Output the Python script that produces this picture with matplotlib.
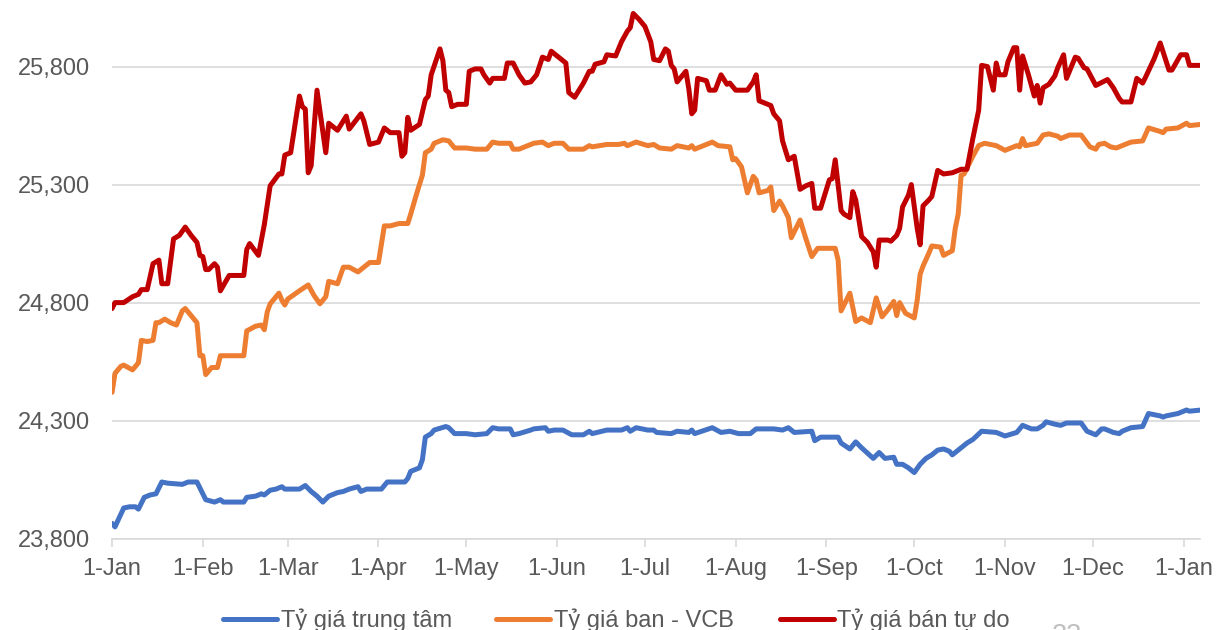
import pandas as pd
import numpy as np
import matplotlib
matplotlib.use('Agg')
import matplotlib.pyplot as plt
import matplotlib.dates as mdates
from matplotlib.ticker import FuncFormatter

START = pd.Timestamp('2024-01-01')

# day offsets from 1-Jan and rates (VND/USD)
red_days = [0, 1, 4, 7, 9, 10, 12, 14, 16, 17, 19, 21, 23, 25, 27, 29, 30, 31, 32, 33,
            35, 36, 37, 40, 45, 46, 47, 50, 52, 54, 57, 58, 59, 61, 64, 65, 66, 67, 68, 70,
            73, 74, 77, 80, 81, 85, 86, 88, 91, 93, 95, 98, 99, 100, 101, 102, 105, 107, 108, 109,
            112, 113, 114, 115, 116, 118, 121, 122, 124, 126, 127, 129, 130, 134, 135, 137, 139, 141, 143, 145,
            147, 149, 150, 153, 155, 156, 158, 161, 163, 164, 165, 168, 169, 172, 174, 176, 177, 178, 180, 182,
            184, 185, 187, 189, 190, 191, 192, 193, 196, 197, 198, 199, 200, 203, 204, 206, 208, 210, 211, 213,
            217, 219, 220, 221, 225, 226, 228, 229, 231, 233, 235, 237, 239, 240, 242, 245, 246, 247, 249, 250,
            252, 253, 254, 256, 258, 260, 261, 262, 265, 266, 268, 269, 270, 272, 273, 275, 276, 277, 279, 280,
            282, 284, 287, 290, 292, 294, 296, 297, 299, 301, 302, 303, 305, 306, 308, 309, 310, 311, 313, 315,
            316, 317, 318, 320, 322, 323, 325, 326, 329, 330, 332, 333, 336, 340, 342, 344, 345, 348, 350, 352,
            353, 356, 358, 361, 362, 365, 367, 368, 372]
red_vals = [24775, 24800, 24800, 24825, 24835, 24855, 24855, 24965, 24980, 24880, 24880, 25070, 25085, 25120, 25085, 25055, 25000, 24995, 24940, 24940,
            24965, 24950, 24850, 24915, 24915, 25025, 25050, 25000, 25130, 25295, 25345, 25345, 25425, 25435, 25675, 25630, 25620, 25350, 25380, 25700,
            25435, 25560, 25530, 25590, 25535, 25600, 25570, 25470, 25480, 25540, 25520, 25520, 25420, 25435, 25585, 25530, 25555, 25660, 25675, 25765,
            25875, 25825, 25700, 25690, 25630, 25640, 25640, 25780, 25790, 25790, 25765, 25730, 25750, 25750, 25815, 25815, 25765, 25730, 25735, 25765,
            25840, 25830, 25865, 25835, 25815, 25690, 25670, 25730, 25780, 25780, 25810, 25820, 25850, 25845, 25905, 25950, 25965, 26025, 26000, 25970,
            25905, 25830, 25825, 25875, 25865, 25805, 25790, 25735, 25780, 25705, 25600, 25615, 25750, 25740, 25700, 25700, 25765, 25725, 25730, 25700,
            25700, 25735, 25765, 25655, 25635, 25600, 25570, 25485, 25405, 25420, 25280, 25295, 25305, 25200, 25200, 25320, 25325, 25405, 25190, 25175,
            25160, 25270, 25235, 25080, 25055, 25015, 24950, 25065, 25065, 25060, 25085, 25115, 25205, 25255, 25300, 25115, 25045, 25210, 25235, 25250,
            25360, 25345, 25350, 25365, 25365, 25495, 25615, 25805, 25800, 25700, 25815, 25765, 25765, 25820, 25880, 25880, 25700, 25845, 25765, 25675,
            25720, 25645, 25710, 25725, 25760, 25795, 25850, 25750, 25840, 25835, 25795, 25790, 25720, 25745, 25710, 25665, 25650, 25650, 25750, 25730,
            25755, 25835, 25900, 25785, 25785, 25850, 25850, 25805, 25805]

orange_days = [0, 1, 3, 4, 7, 9, 10, 12, 14, 15, 16, 18, 20, 22, 24, 25, 27, 29, 30, 31,
               32, 34, 36, 37, 45, 46, 49, 51, 52, 53, 54, 57, 58, 59, 60, 64, 67, 69, 71, 73,
               74, 77, 79, 81, 84, 86, 88, 91, 93, 95, 98, 101, 102, 104, 106, 107, 109, 110, 113, 115,
               117, 121, 124, 128, 130, 132, 136, 137, 139, 143, 144, 147, 149, 151, 154, 156, 161, 163, 164, 169,
               173, 175, 176, 179, 183, 185, 187, 191, 193, 197, 198, 199, 203, 205, 207, 211, 212, 213, 215, 217,
               219, 220, 221, 224, 225, 226, 228, 229, 231, 232, 235, 237, 239, 241, 247, 248, 249, 252, 254, 256,
               259, 261, 263, 265, 267, 268, 269, 271, 274, 275, 276, 277, 279, 280, 283, 284, 287, 288, 289, 290,
               291, 294, 296, 298, 302, 305, 309, 310, 311, 312, 316, 318, 320, 323, 324, 327, 331, 334, 336, 337,
               339, 341, 343, 345, 348, 352, 354, 358, 359, 360, 364, 367, 368, 372]
orange_vals = [24420, 24500, 24530, 24535, 24515, 24545, 24640, 24635, 24640, 24715, 24715, 24730, 24715, 24705, 24765, 24775, 24745, 24715, 24575, 24575,
               24495, 24525, 24525, 24575, 24575, 24680, 24700, 24705, 24685, 24760, 24795, 24840, 24810, 24790, 24815, 24850, 24875, 24830, 24795, 24825,
               24890, 24880, 24950, 24950, 24930, 24950, 24970, 24970, 25125, 25125, 25135, 25135, 25175, 25260, 25340, 25435, 25450, 25475, 25490, 25485,
               25455, 25455, 25450, 25450, 25480, 25475, 25475, 25450, 25450, 25470, 25475, 25480, 25465, 25475, 25475, 25450, 25450, 25465, 25460, 25470,
               25470, 25475, 25465, 25480, 25465, 25470, 25455, 25450, 25465, 25455, 25465, 25450, 25470, 25480, 25465, 25460, 25405, 25410, 25375, 25265,
               25335, 25320, 25265, 25275, 25290, 25190, 25230, 25210, 25160, 25075, 25150, 25070, 24995, 25030, 25030, 24980, 24765, 24840, 24720, 24735,
               24715, 24820, 24740, 24770, 24805, 24745, 24800, 24755, 24735, 24810, 24920, 24955, 25010, 25040, 25035, 25000, 25020, 25115, 25175, 25340,
               25345, 25420, 25465, 25475, 25465, 25445, 25465, 25460, 25495, 25465, 25475, 25510, 25515, 25505, 25495, 25510, 25510, 25460, 25450, 25470,
               25475, 25460, 25455, 25465, 25480, 25485, 25540, 25525, 25520, 25535, 25540, 25560, 25550, 25555]

blue_days = [0, 1, 4, 6, 8, 9, 11, 13, 15, 17, 19, 24, 26, 29, 30, 32, 35, 37, 38, 45,
             46, 49, 51, 52, 54, 56, 58, 59, 64, 66, 68, 70, 72, 74, 77, 79, 81, 84, 85, 87,
             92, 94, 100, 101, 102, 105, 106, 107, 109, 110, 114, 115, 117, 121, 124, 128, 130, 132, 136, 137,
             139, 143, 144, 148, 149, 151, 154, 157, 161, 163, 164, 169, 174, 176, 177, 179, 183, 185, 186, 191,
             193, 197, 198, 199, 205, 208, 211, 214, 218, 220, 223, 226, 229, 231, 233, 239, 240, 242, 248, 249,
             252, 254, 256, 260, 262, 264, 267, 268, 270, 272, 274, 276, 278, 280, 282, 284, 286, 287, 290, 292,
             294, 297, 302, 305, 309, 311, 314, 316, 318, 319, 322, 324, 326, 331, 333, 336, 338, 339, 342, 344,
             345, 348, 352, 354, 358, 359, 360, 364, 367, 368, 372]
blue_vals = [23865, 23850, 23930, 23935, 23935, 23925, 23975, 23985, 23990, 24040, 24035, 24030, 24040, 24040, 24015, 23965, 23955, 23965, 23955, 23955,
             23975, 23980, 23990, 23985, 24005, 24010, 24020, 24010, 24010, 24025, 24000, 23980, 23955, 23980, 23995, 24000, 24010, 24020, 24000, 24010,
             24010, 24040, 24040, 24055, 24085, 24100, 24135, 24230, 24245, 24260, 24275, 24270, 24245, 24245, 24240, 24245, 24270, 24265, 24265, 24240,
             24245, 24260, 24265, 24270, 24255, 24260, 24260, 24240, 24240, 24255, 24245, 24260, 24260, 24270, 24255, 24270, 24260, 24260, 24250, 24245,
             24255, 24250, 24260, 24245, 24270, 24250, 24255, 24245, 24245, 24265, 24265, 24265, 24260, 24270, 24250, 24255, 24215, 24230, 24230, 24205,
             24180, 24210, 24185, 24140, 24165, 24140, 24145, 24115, 24115, 24100, 24080, 24115, 24140, 24155, 24175, 24180, 24170, 24155, 24185, 24205,
             24220, 24255, 24250, 24235, 24250, 24280, 24265, 24265, 24280, 24295, 24285, 24280, 24290, 24290, 24255, 24240, 24265, 24265, 24250, 24245,
             24255, 24270, 24275, 24330, 24320, 24315, 24320, 24330, 24345, 24340, 24345]

SERIES = [('Tỷ giá trung tâm', blue_days, blue_vals, '#4472C4'),
          ('Tỷ giá ban - VCB', orange_days, orange_vals, '#ED7D31'),
          ('Tỷ giá bán tự do', red_days, red_vals, '#C00000')]

Y_TICKS = [23800, 24300, 24800, 25300, 25800]

# left edge of each legend entry (figure fraction)
LEGEND_X = [0.183, 0.407, 0.640]

plt.rcParams['font.family'] = ['Liberation Sans', 'DejaVu Sans']
TEXT_COLOR = '#595959'
GRID_COLOR = '#d9d9d9'
FS = 17


def _to_dates(days):
    return START + pd.to_timedelta(np.array(days), unit='D')


fig = plt.figure(figsize=(12.18, 6.3), dpi=100)
ax = fig.add_axes([0.092, 0.145, 0.893, 0.855])

lines = []
for label, days, vals, color in SERIES:
    ln, = ax.plot(_to_dates(days), vals, color=color, linewidth=3.6, label=label,
                  solid_joinstyle='round', solid_capstyle='round')
    lines.append(ln)

ax.set_ylim(23800, 26082)
ax.set_xlim(START, pd.Timestamp('2025-01-06 12:00'))
ax.set_yticks(Y_TICKS)
ax.yaxis.set_major_formatter(FuncFormatter(lambda v, p: '{:,.0f}'.format(v)))
ax.xaxis.set_major_locator(mdates.MonthLocator())
ax.xaxis.set_major_formatter(FuncFormatter(
    lambda v, p: '%d-%s' % (mdates.num2date(v).day, mdates.num2date(v).strftime('%b'))))

ax.grid(axis='y', color=GRID_COLOR, linewidth=1.2)
ax.set_axisbelow(True)
for side in ['top', 'right', 'left']:
    ax.spines[side].set_visible(False)
ax.spines['bottom'].set_color(GRID_COLOR)
ax.spines['bottom'].set_linewidth(1.2)
ax.tick_params(axis='y', length=0, pad=16, labelsize=FS, labelcolor=TEXT_COLOR)
ax.tick_params(axis='x', length=6, width=1.2, color=GRID_COLOR, pad=8,
               labelsize=FS, labelcolor=TEXT_COLOR)

# one legend per entry so the spacing follows the original
for ln, x in zip(lines, LEGEND_X):
    leg = fig.legend(handles=[ln], loc='center left', bbox_to_anchor=(x, 0.015),
                     frameon=False, fontsize=FS, handlelength=2.3, handletextpad=0.15,
                     borderpad=0, borderaxespad=0)
    for t in leg.get_texts():
        t.set_color(TEXT_COLOR)

fig.text(0.8637, -0.02, '23', fontsize=19.5, color='#bfbfbf', va='baseline')

plt.savefig('out.png', dpi=100)
